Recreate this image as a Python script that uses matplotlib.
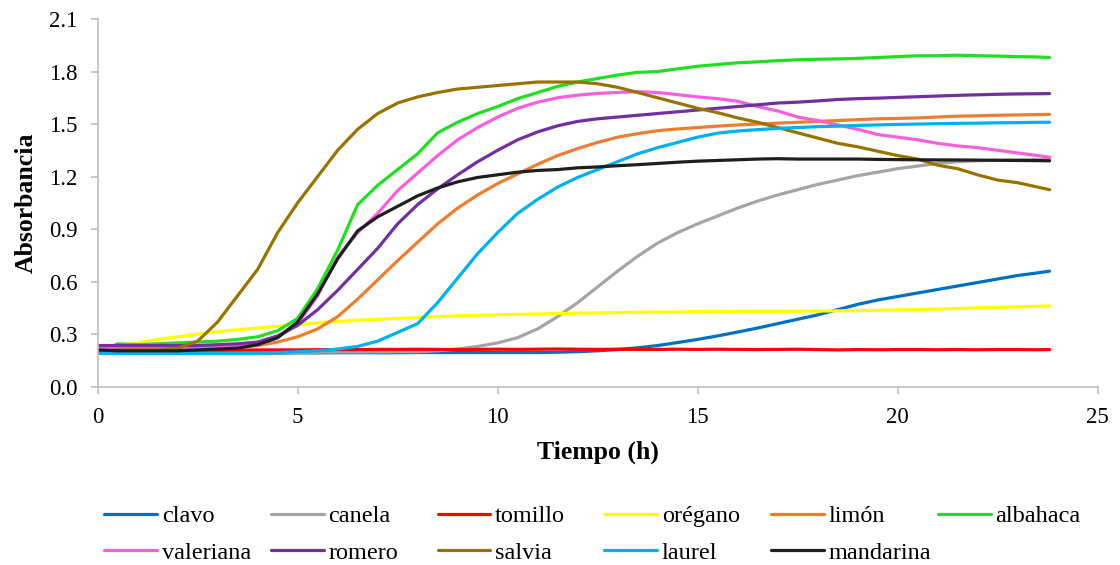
import matplotlib.pyplot as plt
import numpy as np

plt.rcParams['font.family'] = ['Liberation Serif', 'DejaVu Serif']

# tiempo de lectura (h)
tiempo = [0, 0.5, 1, 1.5, 2, 2.5, 3, 3.5, 4, 4.5, 5, 5.5, 6, 6.5, 7, 7.5, 8, 8.5,
          9, 9.5, 10, 10.5, 11, 11.5, 12, 12.5, 13, 13.5, 14, 14.5, 15, 15.5, 16,
          16.5, 17, 17.5, 18, 18.5, 19, 19.5, 20, 20.5, 21, 21.5, 22, 22.5, 23,
          23.5, 23.8]

clavo = [0.19, 0.19, 0.19, 0.19, 0.19, 0.19, 0.19, 0.19, 0.19, 0.192, 0.193, 0.193,
         0.194, 0.194, 0.194, 0.194, 0.195, 0.195, 0.195, 0.195, 0.195, 0.195, 0.195,
         0.197, 0.20, 0.205, 0.212, 0.222, 0.235, 0.252, 0.27, 0.29, 0.312, 0.335,
         0.36, 0.385, 0.41, 0.44, 0.47, 0.495, 0.515, 0.535, 0.555, 0.575, 0.595,
         0.615, 0.635, 0.65, 0.66]
canela = [0.19, 0.19, 0.19, 0.19, 0.19, 0.19, 0.192, 0.193, 0.194, 0.195, 0.196,
          0.197, 0.198, 0.198, 0.199, 0.20, 0.20, 0.205, 0.215, 0.23, 0.25, 0.28,
          0.33, 0.40, 0.48, 0.57, 0.66, 0.745, 0.82, 0.88, 0.93, 0.975, 1.02, 1.06,
          1.095, 1.125, 1.155, 1.18, 1.205, 1.225, 1.245, 1.26, 1.275, 1.285, 1.29,
          1.293, 1.295, 1.297, 1.298]
tomillo = [0.20, 0.205, 0.205, 0.206, 0.207, 0.208, 0.208, 0.209, 0.21, 0.21, 0.21,
           0.211, 0.212, 0.212, 0.213, 0.213, 0.214, 0.213, 0.212, 0.213, 0.214,
           0.213, 0.214, 0.215, 0.214, 0.213, 0.214, 0.213, 0.213, 0.214, 0.213,
           0.214, 0.213, 0.212, 0.213, 0.214, 0.212, 0.21, 0.212, 0.211, 0.212,
           0.212, 0.211, 0.212, 0.211, 0.212, 0.212, 0.211, 0.212]
oregano = [0.22, 0.235, 0.25, 0.27, 0.285, 0.30, 0.315, 0.325, 0.335, 0.345, 0.355,
           0.365, 0.372, 0.38, 0.385, 0.39, 0.395, 0.40, 0.405, 0.408, 0.41, 0.413,
           0.415, 0.418, 0.42, 0.421, 0.423, 0.425, 0.426, 0.427, 0.428, 0.429, 0.43,
           0.43, 0.43, 0.431, 0.432, 0.433, 0.434, 0.436, 0.438, 0.44, 0.443, 0.446,
           0.45, 0.453, 0.456, 0.459, 0.461]
limon = [0.215, 0.215, 0.215, 0.215, 0.215, 0.215, 0.22, 0.225, 0.235, 0.255, 0.285,
         0.33, 0.40, 0.50, 0.61, 0.72, 0.825, 0.93, 1.02, 1.095, 1.16, 1.215, 1.27,
         1.32, 1.36, 1.395, 1.425, 1.445, 1.462, 1.472, 1.48, 1.488, 1.495, 1.50,
         1.505, 1.51, 1.515, 1.52, 1.525, 1.53, 1.532, 1.535, 1.54, 1.545, 1.547,
         1.55, 1.552, 1.554, 1.555]
albahaca = [0.19, 0.245, 0.24, 0.245, 0.25, 0.255, 0.26, 0.27, 0.285, 0.32, 0.39,
            0.56, 0.78, 1.04, 1.15, 1.24, 1.33, 1.45, 1.51, 1.56, 1.60, 1.645, 1.68,
            1.715, 1.74, 1.76, 1.78, 1.795, 1.80, 1.815, 1.83, 1.84, 1.85, 1.855,
            1.862, 1.867, 1.87, 1.872, 1.875, 1.88, 1.885, 1.89, 1.89, 1.893, 1.89,
            1.888, 1.885, 1.883, 1.88]
valeriana = [0.22, 0.22, 0.22, 0.22, 0.22, 0.22, 0.225, 0.23, 0.24, 0.28, 0.36, 0.52,
             0.74, 0.88, 0.99, 1.12, 1.22, 1.32, 1.41, 1.48, 1.54, 1.59, 1.625, 1.65,
             1.665, 1.675, 1.68, 1.685, 1.68, 1.668, 1.655, 1.645, 1.63, 1.60, 1.575,
             1.54, 1.52, 1.495, 1.47, 1.44, 1.425, 1.41, 1.39, 1.375, 1.365, 1.35,
             1.335, 1.32, 1.31]
romero = [0.235, 0.235, 0.235, 0.235, 0.235, 0.235, 0.24, 0.245, 0.255, 0.29, 0.35,
          0.44, 0.55, 0.67, 0.79, 0.93, 1.04, 1.13, 1.21, 1.285, 1.35, 1.41, 1.455,
          1.49, 1.515, 1.53, 1.54, 1.55, 1.56, 1.57, 1.58, 1.59, 1.60, 1.61, 1.62,
          1.625, 1.632, 1.64, 1.645, 1.648, 1.652, 1.656, 1.66, 1.664, 1.667, 1.67,
          1.672, 1.673, 1.674]
salvia = [0.20, 0.21, 0.21, 0.21, 0.22, 0.26, 0.37, 0.52, 0.67, 0.88, 1.05, 1.20,
          1.35, 1.47, 1.56, 1.62, 1.655, 1.68, 1.70, 1.71, 1.72, 1.73, 1.74, 1.74,
          1.74, 1.73, 1.71, 1.68, 1.65, 1.62, 1.59, 1.565, 1.535, 1.51, 1.48, 1.45,
          1.42, 1.39, 1.37, 1.345, 1.32, 1.30, 1.265, 1.245, 1.21, 1.18, 1.165, 1.14,
          1.125]
laurel = [0.19, 0.19, 0.19, 0.19, 0.19, 0.19, 0.19, 0.19, 0.19, 0.195, 0.20, 0.205,
          0.215, 0.23, 0.26, 0.31, 0.36, 0.48, 0.62, 0.76, 0.88, 0.99, 1.07, 1.14,
          1.195, 1.24, 1.285, 1.33, 1.365, 1.395, 1.425, 1.448, 1.46, 1.468, 1.475,
          1.48, 1.485, 1.488, 1.492, 1.495, 1.498, 1.50, 1.502, 1.504, 1.505, 1.507,
          1.508, 1.51, 1.51]
mandarina = [0.21, 0.205, 0.205, 0.205, 0.205, 0.21, 0.215, 0.22, 0.24, 0.28, 0.37,
             0.53, 0.73, 0.89, 0.97, 1.03, 1.09, 1.135, 1.17, 1.195, 1.21, 1.225,
             1.235, 1.24, 1.25, 1.255, 1.262, 1.268, 1.275, 1.282, 1.288, 1.292,
             1.296, 1.30, 1.302, 1.30, 1.30, 1.30, 1.30, 1.298, 1.297, 1.296, 1.295,
             1.295, 1.294, 1.293, 1.292, 1.291, 1.29]

nombres = ['clavo', 'canela', 'tomillo', 'orégano', 'limón', 'albahaca',
           'valeriana', 'romero', 'salvia', 'laurel', 'mandarina']
series = [clavo, canela, tomillo, oregano, limon, albahaca,
          valeriana, romero, salvia, laurel, mandarina]
colores = ['#0070C0', '#A5A5A5', '#FF0000', '#FFFF00', '#ED7D31', '#22DD22',
           '#F75FDC', '#7030A0', '#997300', '#00B0F0', '#1E1E1E']

fig = plt.figure(figsize=(11.2, 5.65), dpi=100)
ax = fig.add_axes([0.0872, 0.3156, 0.8928, 0.6508])

lineas = []
for nom, y, c in zip(nombres, series, colores):
    l, = ax.plot(tiempo, y, color=c, lw=2.3, label=nom, solid_capstyle='round')
    lineas.append(l)

ax.set_xlim(0, 25)
ax.set_ylim(0, 2.1)
ax.set_xticks(np.arange(0, 26, 5))
ax.set_yticks(np.arange(0, 2.11, 0.3))
ax.yaxis.set_major_formatter(plt.FormatStrFormatter('%.1f'))
ax.tick_params(labelsize=16.5, color='#BFBFBF', length=5, width=1.2,
               direction='out', pad=9.5)
for s in ['top', 'right']:
    ax.spines[s].set_visible(False)
for s in ['left', 'bottom']:
    ax.spines[s].set_color('#BFBFBF')
    ax.spines[s].set_linewidth(1.2)

ax.set_xlabel('Tiempo (h)', fontsize=18.5, fontweight='bold', labelpad=9)
ax.set_ylabel('Absorbancia', fontsize=18.5, fontweight='bold', labelpad=8)

# leyenda en dos filas, una columna por posición
x_cols = 0.0929 + 0.1489 * np.arange(6)
for i, x0 in enumerate(x_cols):
    h = [lineas[i]] + ([lineas[i + 6]] if i + 6 < len(lineas) else [])
    fig.legend(handles=h, loc='upper left', bbox_to_anchor=(x0, 0.106),
               frameon=False, fontsize=17.5, handlelength=2.17, handletextpad=0.2,
               labelspacing=0.6, borderaxespad=0, borderpad=0)

fig.savefig('out.png', dpi=100)
